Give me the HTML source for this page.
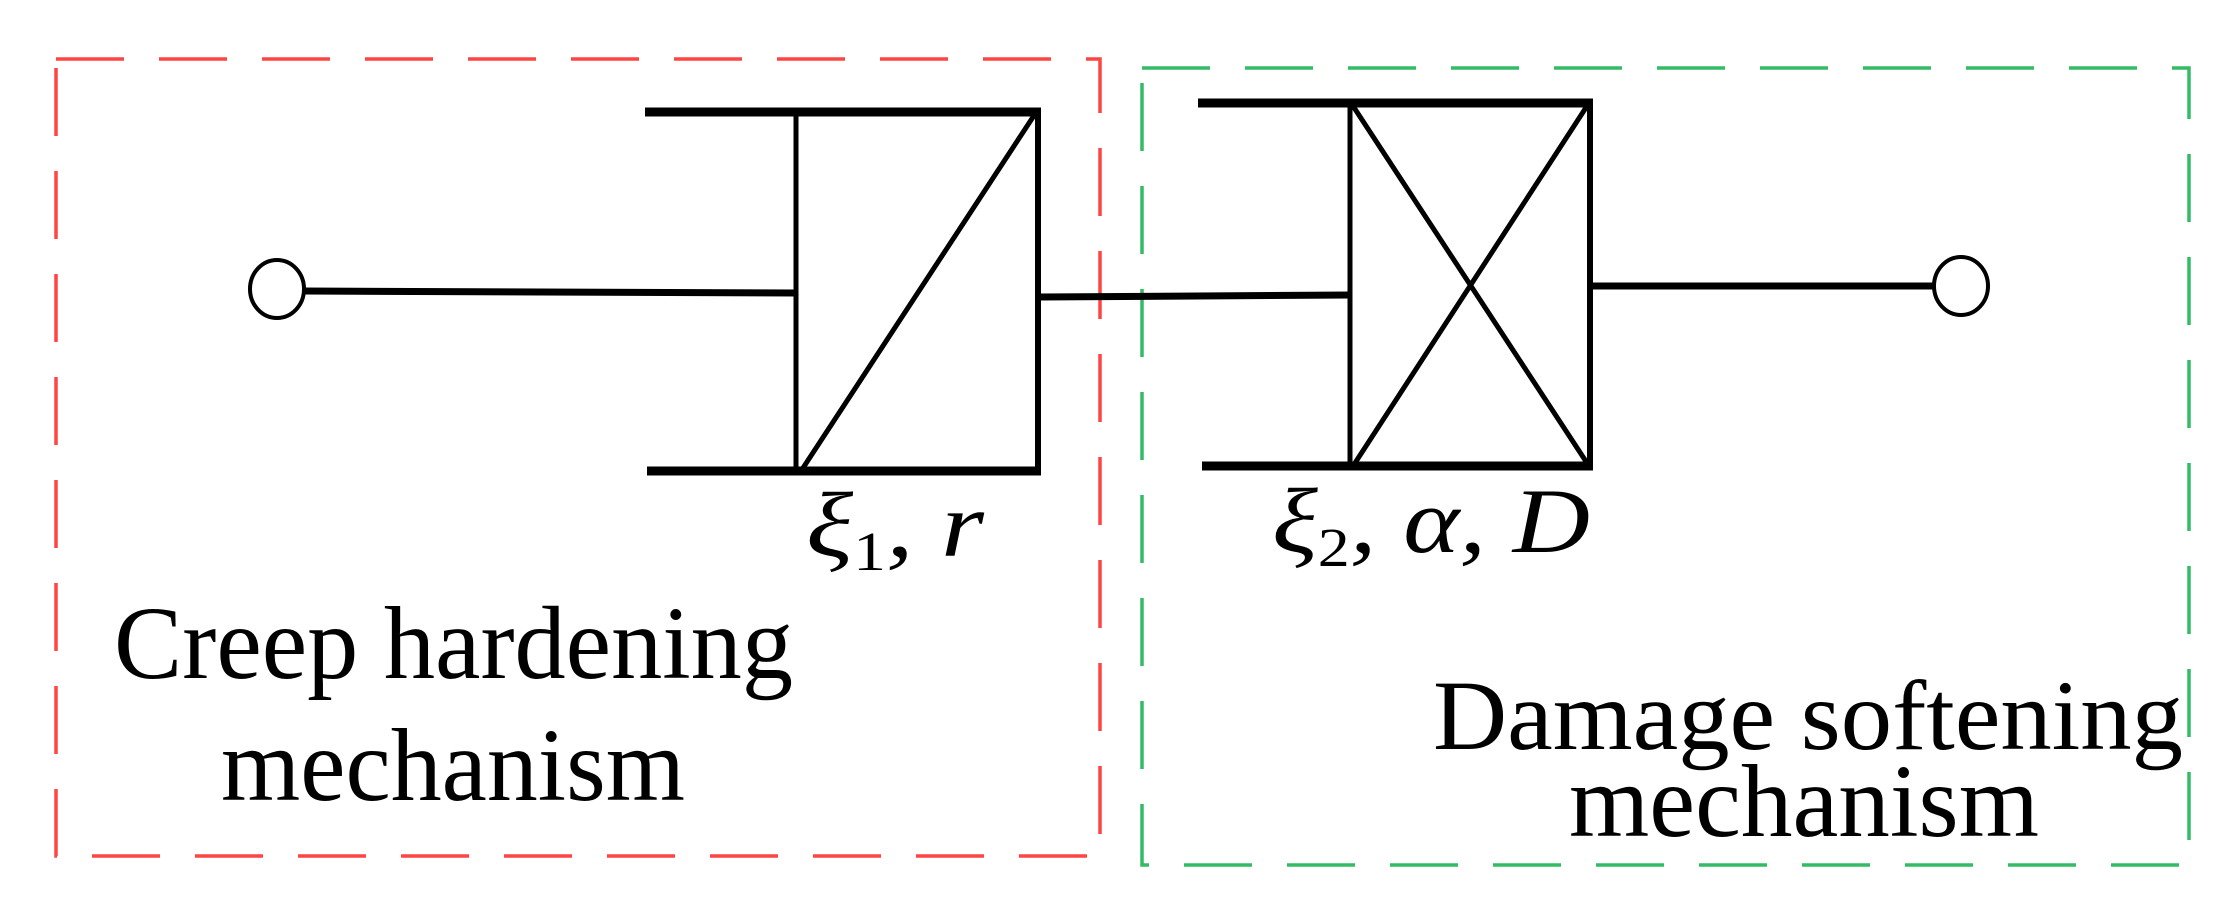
<!DOCTYPE html>
<html><head><meta charset="utf-8"><style>
html,body{margin:0;padding:0;background:#fff;}
svg{display:block;}
text{font-family:"Liberation Serif",serif;fill:#000;}
</style></head><body>
<svg width="2236" height="923" viewBox="0 0 2236 923" xmlns="http://www.w3.org/2000/svg">
<rect x="56" y="59" width="1044" height="797" fill="none" stroke="#ff4444" stroke-width="3.5" stroke-dasharray="68 35"/>
<rect x="1142" y="68" width="1047" height="797" fill="none" stroke="#33bb66" stroke-width="3.5" stroke-dasharray="68 35"/>
<g stroke="#000" fill="none" stroke-linecap="butt">
<line x1="645" y1="112" x2="1041" y2="112" stroke-width="9"/>
<line x1="647" y1="471" x2="1041" y2="471" stroke-width="9"/>
<line x1="796" y1="112" x2="796" y2="473" stroke-width="5"/>
<line x1="1038" y1="108" x2="1038" y2="475" stroke-width="6"/>
<line x1="801" y1="471" x2="1035" y2="114" stroke-width="5"/>
<ellipse cx="277" cy="289" rx="27" ry="29" stroke-width="4" fill="#fff"/>
<line x1="304" y1="291" x2="796" y2="293" stroke-width="7"/>
<line x1="1041" y1="297" x2="1350" y2="295" stroke-width="7"/>
<line x1="1198" y1="103" x2="1593" y2="103" stroke-width="9"/>
<line x1="1202" y1="466" x2="1593" y2="466" stroke-width="9"/>
<line x1="1350" y1="103" x2="1350" y2="468" stroke-width="5"/>
<line x1="1590" y1="99" x2="1590" y2="470" stroke-width="6"/>
<line x1="1353" y1="106" x2="1587" y2="463" stroke-width="5"/>
<line x1="1355" y1="463" x2="1587" y2="106" stroke-width="5"/>
<line x1="1593" y1="286" x2="1933" y2="286" stroke-width="7"/>
<ellipse cx="1961" cy="286" rx="27" ry="29" stroke-width="4" fill="#fff"/>
</g>
<text x="806" y="556" font-size="92" font-style="italic" textLength="178" lengthAdjust="spacingAndGlyphs">ξ<tspan font-size="55" font-style="normal" dy="14">1</tspan><tspan dy="-14">, r</tspan></text>
<text x="1272" y="552" font-size="92" font-style="italic" textLength="318" lengthAdjust="spacingAndGlyphs">ξ<tspan font-size="55" font-style="normal" dy="14">2</tspan><tspan dy="-14">, α, D</tspan></text>
<text x="114" y="678" font-size="104" textLength="679" lengthAdjust="spacingAndGlyphs">Creep hardening</text>
<text x="221" y="800" font-size="104" textLength="464" lengthAdjust="spacingAndGlyphs">mechanism</text>
<text x="1433" y="749" font-size="100" textLength="750" lengthAdjust="spacingAndGlyphs">Damage softening</text>
<text x="1569" y="836" font-size="104" textLength="470" lengthAdjust="spacingAndGlyphs">mechanism</text>
</svg>
</body></html>
